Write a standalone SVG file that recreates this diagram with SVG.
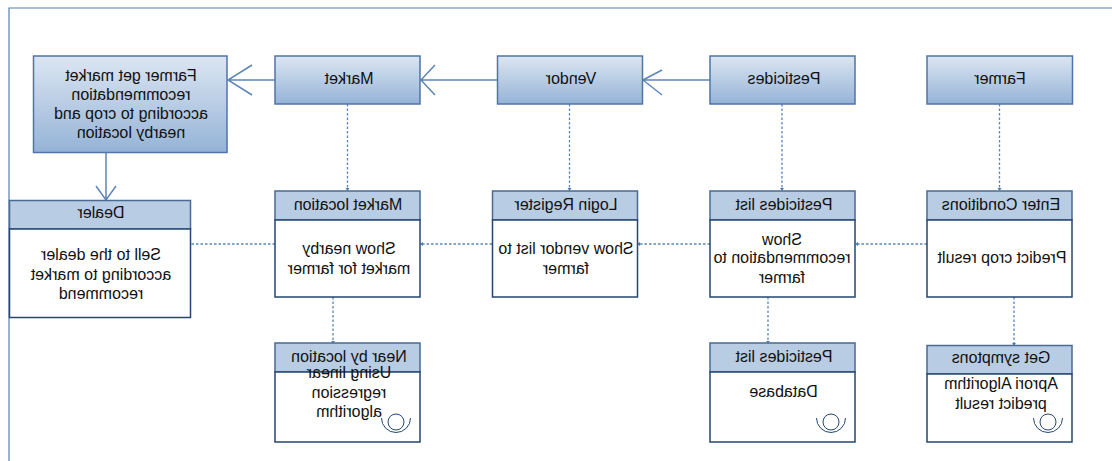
<svg xmlns="http://www.w3.org/2000/svg" width="1112" height="461" viewBox="0 0 1112 461">
<style>
text{font-family:"Liberation Sans",Arial,sans-serif;font-size:16px;fill:#111;text-anchor:middle}
.g{fill:url(#grad);stroke:#4f75a5;stroke-width:1.5}
.h{fill:#b8cce4;stroke:#4a6a94;stroke-width:1.5}
.b{fill:#fff;stroke:#254670;stroke-width:1.5}
.s{fill:none;stroke:#5f86b5;stroke-width:1.5}
.d{fill:none;stroke:#5b86b8;stroke-width:1.3;stroke-dasharray:2.500 2}
.t{fill:#4f7cb0;stroke:none}
.i{fill:none;stroke:#254670;stroke-width:1}
</style>
<defs>
<linearGradient id="grad" x1="0" y1="0" x2="0" y2="1"><stop offset="0" stop-color="#dce6f2"/><stop offset="1" stop-color="#95b3d7"/></linearGradient>
</defs>
<rect width="1112" height="461" fill="#fff"/>
<path id="frame" d="M1112 8H9V461" fill="none" stroke="#5a7fab" stroke-width="1.2"/>
<g id="connectors">
<path class="s" d="M275 80H228M252 65L228 80L252 95"/>
<path class="s" d="M497 80H421M435 65L421 80L435 95"/>
<path class="s" d="M710 80H643M662 70L643 80L662 95"/>
<path class="s" d="M106 152V200M96 186L106 200L116 186"/>
<path class="d" d="M347.500 104V188"/><path class="t" d="M345.500 188h4l-2 3z"/>
<path class="d" d="M569.500 104V188"/><path class="t" d="M567.500 188h4l-2 3z"/>
<path class="d" d="M782 104V188"/><path class="t" d="M780 188h4l-2 3z"/>
<path class="d" d="M999.500 104V188"/><path class="t" d="M997.500 188h4l-2 3z"/>
<path class="d" d="M333 297V341"/><path class="t" d="M331 341h4l-2 2.500z"/>
<path class="d" d="M768 297V341"/><path class="t" d="M766 341h4l-2 2.500z"/>
<path class="d" d="M1014 297V343"/><path class="t" d="M1012 343h4l-2 3z"/>
<path class="d" d="M927 244H858"/><path class="t" d="M858 242v4l-3-2z"/>
<path class="d" d="M710 244H640"/><path class="t" d="M640 242v4l-3-2z"/>
<path class="d" d="M492 244H423"/><path class="t" d="M423 242v4l-3-2z"/>
<path class="d" d="M275 244H191"/>
</g>
<g id="node-farmer-market"><rect class="g" x="33.500" y="56" width="193.500" height="96.500"/>
<text transform="translate(131,81) scale(-1,1)">Farmer get market</text>
<text transform="translate(131,100) scale(-1,1)">recommendation</text>
<text transform="translate(131,119) scale(-1,1)">according to crop and</text>
<text transform="translate(131,138) scale(-1,1)">nearby location</text></g>
<g id="node-market"><rect class="g" x="275" y="56" width="145" height="48"/><text transform="translate(349,84) scale(-1,1)">Market</text></g>
<g id="node-vendor"><rect class="g" x="497.500" y="56" width="145" height="48"/><text transform="translate(571,84) scale(-1,1)">Vendor</text></g>
<g id="node-pesticides"><rect class="g" x="710" y="56" width="145" height="48"/><text transform="translate(784,84) scale(-1,1)">Pesticides</text></g>
<g id="node-farmer"><rect class="g" x="927" y="56" width="145.500" height="48"/><text transform="translate(1000,84) scale(-1,1)">Farmer</text></g>
<g id="node-dealer"><rect class="h" x="9.500" y="200.500" width="181" height="28.500"/><rect class="b" x="9.500" y="229" width="181" height="88.500"/>
<text transform="translate(101,218) scale(-1,1)">Dealer</text>
<text transform="translate(101,260) scale(-1,1)">Sell to the dealer</text>
<text transform="translate(101,280) scale(-1,1)">according to market</text>
<text transform="translate(101,299) scale(-1,1)">recommend</text></g>
<g id="node-market-location"><rect class="h" x="275" y="191" width="145" height="29"/><rect class="b" x="275" y="220" width="145" height="77"/>
<text transform="translate(348,210) scale(-1,1)">Market location</text>
<text transform="translate(349,254) scale(-1,1)">Show nearby</text>
<text transform="translate(349,274) scale(-1,1)">market for farmer</text></g>
<g id="node-login"><rect class="h" x="492.500" y="191" width="145" height="29"/><rect class="b" x="492.500" y="220" width="145" height="77"/>
<text transform="translate(566,210) scale(-1,1)">Login Register</text>
<text transform="translate(566,254) scale(-1,1)">Show vendor list to</text>
<text transform="translate(566,274) scale(-1,1)">farmer</text></g>
<g id="node-pesticides-list"><rect class="h" x="710" y="191" width="145" height="29"/><rect class="b" x="710" y="220" width="145" height="77"/>
<text transform="translate(784,210) scale(-1,1)">Pesticides list</text>
<text transform="translate(782,245) scale(-1,1)">Show</text>
<text transform="translate(782,263) scale(-1,1)">recommendation to</text>
<text transform="translate(782,283) scale(-1,1)">farmer</text></g>
<g id="node-enter-conditions"><rect class="h" x="927" y="191" width="145" height="29"/><rect class="b" x="927" y="220" width="145" height="77"/>
<text transform="translate(1001,210) scale(-1,1)">Enter Conditions</text>
<text transform="translate(1002,263) scale(-1,1)">Predict crop result</text></g>
<g id="node-near-by"><rect class="h" x="275" y="343" width="145" height="29"/><rect class="b" x="275" y="372" width="145" height="70"/>
<text transform="translate(349,362) scale(-1,1)">Near by location</text>
<text transform="translate(349,378) scale(-1,1)">Using linear</text>
<text transform="translate(349,398) scale(-1,1)">regression</text>
<text transform="translate(349,417) scale(-1,1)">algorithm</text>
<circle class="i" cx="396" cy="422" r="8"/><path class="i" d="M381.500 418A14.500 14.500 0 0 0 410.500 418"/></g>
<g id="node-database"><rect class="h" x="710" y="343" width="145" height="29"/><rect class="b" x="710" y="372" width="145" height="70"/>
<text transform="translate(784,362) scale(-1,1)">Pesticides list</text>
<text transform="translate(783.500,397) scale(-1,1)">Database</text>
<circle class="i" cx="831" cy="422" r="8"/><path class="i" d="M816.500 418A14.500 14.500 0 0 0 845.500 418"/></g>
<g id="node-symptons"><rect class="h" x="927" y="345.500" width="145" height="28.500"/><rect class="b" x="927" y="374" width="145" height="68"/>
<text transform="translate(1001,363) scale(-1,1)">Get symptons</text>
<text transform="translate(1001,389) scale(-1,1)">Aprori Algorithm</text>
<text transform="translate(1001,409) scale(-1,1)">predict result</text>
<circle class="i" cx="1048" cy="422" r="8"/><path class="i" d="M1033.500 418A14.500 14.500 0 0 0 1062.500 418"/></g>
</svg>
